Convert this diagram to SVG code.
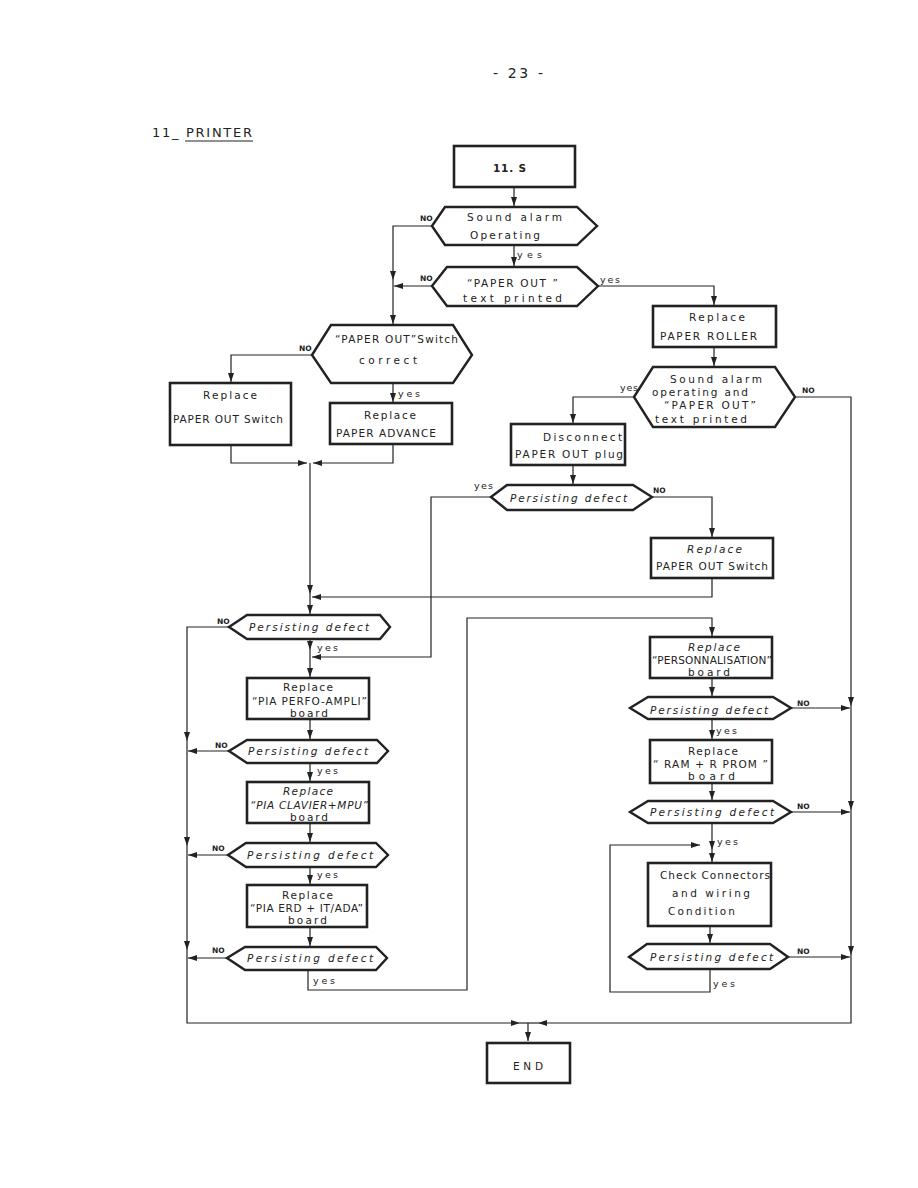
<svg xmlns="http://www.w3.org/2000/svg" width="918" height="1188" viewBox="0 0 918 1188">
<defs>
<marker id="ah" markerUnits="userSpaceOnUse" markerWidth="10" markerHeight="8" refX="9" refY="3" orient="auto">
<path d="M0,0 L9,3 L0,6 z" fill="#222"/>
</marker>
<style>
.box{fill:#fff;stroke:#222;stroke-width:2.6}
.hex{fill:#fff;stroke:#222;stroke-width:2.4;stroke-linejoin:miter}
.ln{fill:none;stroke:#222;stroke-width:1.2}
.ar{fill:none;stroke:#222;stroke-width:1.2;marker-end:url(#ah)}
text{font-family:"DejaVu Sans","Liberation Sans",sans-serif;fill:#222;font-size:10.5px}
.it{font-style:italic}
.lb{font-size:7.5px;font-weight:bold}
.sm{font-size:9.5px}
</style>
</defs>
<rect width="918" height="1188" fill="#fff"/>
<text x="493" y="78" textLength="50" lengthAdjust="spacing" style="font-size:14px">- 23 -</text>
<text x="152" y="137" textLength="100" lengthAdjust="spacing" style="font-size:13px">11_ PRINTER</text>
<line x1="185" y1="141" x2="253" y2="141" stroke="#222" stroke-width="1"/>

<g id="connectors">
<path class="ar" d="M514,187 V206"/>
<path class="ar" d="M514,245 V266"/>
<path class="ar" d="M432,226 H393 V280"/>
<path class="ar" d="M393,280 V324"/>
<path class="ar" d="M432,286 H394"/>
<path class="ar" d="M598,286 H714 V305"/>
<path class="ar" d="M714,347 V366"/>
<path class="ar" d="M634,397 H573 V423"/>
<path class="ar" d="M795,397 H851 V706"/>
<path class="ar" d="M851,706 V810"/>
<path class="ar" d="M851,810 V955"/>
<path class="ar" d="M851,955 V1023 H538"/>
<path class="ar" d="M573,465 V484"/>
<path class="ar" d="M491,497 H431 V657 H312"/>
<path class="ar" d="M652,497 H712 V537"/>
<path class="ar" d="M712,578 V597 H312"/>
<path class="ar" d="M312,355 H231 V382"/>
<path class="ar" d="M393,383 V402"/>
<path class="ar" d="M231,445 V463 H307"/>
<path class="ar" d="M393,444 V463 H313"/>
<path class="ar" d="M310,463 V594"/>
<path class="ar" d="M310,594 V614"/>
<path class="ar" d="M229,627 H187 V741"/>
<path class="ar" d="M187,741 V846"/>
<path class="ar" d="M187,846 V950"/>
<path class="ar" d="M187,950 V1023 H520"/>
<path class="ar" d="M229,751 H188"/>
<path class="ar" d="M228,855 H188"/>
<path class="ar" d="M227,958 H188"/>
<path class="ar" d="M310,639 V650"/>
<path class="ar" d="M310,650 V677"/>
<path class="ar" d="M310,719 V739"/>
<path class="ar" d="M310,763 V781"/>
<path class="ar" d="M310,823 V842"/>
<path class="ar" d="M310,867 V884"/>
<path class="ar" d="M310,927 V946"/>
<path class="ar" d="M308,970 V990 H467 V618 H712 V636"/>
<path class="ar" d="M712,678 V696"/>
<path class="ar" d="M791,708 H850"/>
<path class="ar" d="M712,719 V739"/>
<path class="ar" d="M712,783 V800"/>
<path class="ar" d="M791,812 H850"/>
<path class="ar" d="M712,823 V850"/>
<path class="ar" d="M712,850 V862"/>
<path class="ar" d="M710,926 V943"/>
<path class="ar" d="M788,957 H850"/>
<path class="ar" d="M710,969 V992 H610 V845 H700"/>
<path class="ln" d="M520,1023 H538"/>
<path class="ar" d="M528,1023 V1041"/>
</g>

<g id="labels">
<text class="sm" x="517" y="258" textLength="25" lengthAdjust="spacing">yes</text>
<text class="lb" x="420" y="221">NO</text>
<text class="lb" x="420" y="281">NO</text>
<text class="sm" x="600" y="283" textLength="20" lengthAdjust="spacing">yes</text>
<text class="sm" x="620" y="391" textLength="18" lengthAdjust="spacing">yes</text>
<text class="lb" x="802" y="393">NO</text>
<text class="sm" x="474" y="489" textLength="19" lengthAdjust="spacing">yes</text>
<text class="lb" x="653" y="493">NO</text>
<text class="lb" x="299" y="351">NO</text>
<text class="sm" x="398" y="397" textLength="22" lengthAdjust="spacing">yes</text>
<text class="lb" x="217" y="624">NO</text>
<text class="sm" x="317" y="651" textLength="21" lengthAdjust="spacing">yes</text>
<text class="lb" x="215" y="748">NO</text>
<text class="sm" x="317" y="774" textLength="21" lengthAdjust="spacing">yes</text>
<text class="lb" x="212" y="851">NO</text>
<text class="sm" x="317" y="878" textLength="21" lengthAdjust="spacing">yes</text>
<text class="lb" x="212" y="953">NO</text>
<text class="sm" x="313" y="984" textLength="22" lengthAdjust="spacing">yes</text>
<text class="lb" x="797" y="706">NO</text>
<text class="sm" x="716" y="734" textLength="21" lengthAdjust="spacing">yes</text>
<text class="lb" x="797" y="809">NO</text>
<text class="sm" x="717" y="845" textLength="21" lengthAdjust="spacing">yes</text>
<text class="lb" x="797" y="954">NO</text>
<text class="sm" x="713" y="987" textLength="22" lengthAdjust="spacing">yes</text>
</g>

<g id="n_start">
<rect class="box" x="454" y="146" width="121" height="41"/>
<text x="493" y="172" textLength="33" lengthAdjust="spacing" style="font-weight:bold">11. S</text>
</g>
<g id="n_sound_alarm">
<polygon class="hex" points="432,226 445,207 577,207 597,226 577,245 445,245"/>
<text x="467" y="221" textLength="95" lengthAdjust="spacing">Sound alarm</text>
<text x="470" y="239" textLength="70" lengthAdjust="spacing">Operating</text>
</g>
<g id="n_paper_out_text">
<polygon class="hex" points="432,286 447,267 577,267 598,286 577,306 447,306"/>
<text x="467" y="287" textLength="91" lengthAdjust="spacing">“PAPER OUT ”</text>
<text x="463" y="302" textLength="99" lengthAdjust="spacing">text printed</text>
</g>
<g id="n_switch_correct">
<polygon class="hex" points="312,355 331,325 453,325 472,355 453,383 331,383"/>
<text x="335" y="343" textLength="123" lengthAdjust="spacing">“PAPER OUT”Switch</text>
<text x="359" y="364" textLength="58" lengthAdjust="spacing">correct</text>
</g>
<g id="n_replace_switch_l">
<rect class="box" x="170" y="383" width="121" height="62"/>
<text x="203" y="399" textLength="54" lengthAdjust="spacing">Replace</text>
<text x="173" y="423" textLength="110" lengthAdjust="spacing">PAPER OUT Switch</text>
</g>
<g id="n_replace_advance">
<rect class="box" x="330" y="403" width="122" height="41"/>
<text x="364" y="419" textLength="52" lengthAdjust="spacing">Replace</text>
<text x="336" y="437" textLength="100" lengthAdjust="spacing">PAPER ADVANCE</text>
</g>
<g id="n_replace_roller">
<rect class="box" x="653" y="306" width="123" height="41"/>
<text x="689" y="321" textLength="56" lengthAdjust="spacing">Replace</text>
<text x="660" y="340" textLength="97" lengthAdjust="spacing">PAPER ROLLER</text>
</g>
<g id="n_sound_and_paper">
<polygon class="hex" points="634,397 653,367 775,367 795,397 775,427 653,427"/>
<text x="670" y="383" textLength="92" lengthAdjust="spacing">Sound alarm</text>
<text x="652" y="396" textLength="96" lengthAdjust="spacing">operating and</text>
<text x="664" y="409" textLength="92" lengthAdjust="spacing">“PAPER OUT”</text>
<text x="655" y="423" textLength="92" lengthAdjust="spacing">text printed</text>
</g>
<g id="n_disconnect">
<rect class="box" x="511" y="424" width="114" height="41"/>
<text x="543" y="441" textLength="79" lengthAdjust="spacing">Disconnect</text>
<text x="515" y="458" textLength="108" lengthAdjust="spacing">PAPER OUT plug</text>
</g>
<g id="n_persist_a">
<polygon class="hex" points="491,497 507,485 633,485 652,497 633,510 507,510"/>
<text class="it" x="510" y="502" textLength="117" lengthAdjust="spacing">Persisting defect</text>
</g>
<g id="n_replace_switch_r">
<rect class="box" x="651" y="538" width="122" height="40"/>
<text class="it" x="687" y="553" textLength="55" lengthAdjust="spacing">Replace</text>
<text x="656" y="570" textLength="112" lengthAdjust="spacing">PAPER OUT Switch</text>
</g>
<g id="n_persist_1">
<polygon class="hex" points="229,627 247,615 380,615 390,627 380,639 247,639"/>
<text class="it" x="249" y="631" textLength="120" lengthAdjust="spacing">Persisting defect</text>
</g>
<g id="n_perfo">
<rect class="box" x="247" y="678" width="122" height="41"/>
<text x="283" y="691" textLength="50" lengthAdjust="spacing">Replace</text>
<text x="252" y="705" textLength="115" lengthAdjust="spacing">“PIA PERFO-AMPLI”</text>
<text x="290" y="717" textLength="38" lengthAdjust="spacing">board</text>
</g>
<g id="n_persist_2">
<polygon class="hex" points="229,751 247,740 377,740 388,751 377,763 247,763"/>
<text class="it" x="248" y="755" textLength="120" lengthAdjust="spacing">Persisting defect</text>
</g>
<g id="n_clavier">
<rect class="box" x="247" y="782" width="122" height="41"/>
<text class="it" x="283" y="795" textLength="50" lengthAdjust="spacing">Replace</text>
<text class="it" x="250" y="809" textLength="118" lengthAdjust="spacing">“PIA CLAVIER+MPU”</text>
<text x="290" y="821" textLength="38" lengthAdjust="spacing">board</text>
</g>
<g id="n_persist_3">
<polygon class="hex" points="228,855 246,843 376,843 388,855 376,867 246,867"/>
<text class="it" x="247" y="859" textLength="126" lengthAdjust="spacing">Persisting defect</text>
</g>
<g id="n_erd">
<rect class="box" x="247" y="885" width="120" height="42"/>
<text x="282" y="899" textLength="51" lengthAdjust="spacing">Replace</text>
<text x="250" y="912" textLength="113" lengthAdjust="spacing">“PIA ERD + IT/ADA”</text>
<text x="288" y="924" textLength="39" lengthAdjust="spacing">board</text>
</g>
<g id="n_persist_4">
<polygon class="hex" points="227,958 245,947 376,947 387,958 376,970 245,970"/>
<text class="it" x="247" y="962" textLength="126" lengthAdjust="spacing">Persisting defect</text>
</g>
<g id="n_personnalisation">
<rect class="box" x="650" y="637" width="122" height="41"/>
<text class="it" x="688" y="651" textLength="52" lengthAdjust="spacing">Replace</text>
<text x="652" y="664" textLength="120" lengthAdjust="spacing">“PERSONNALISATION”</text>
<text x="688" y="676" textLength="42" lengthAdjust="spacing">board</text>
</g>
<g id="n_persist_5">
<polygon class="hex" points="630,708 648,697 773,697 791,708 773,719 648,719"/>
<text class="it" x="650" y="714" textLength="118" lengthAdjust="spacing">Persisting defect</text>
</g>
<g id="n_ram">
<rect class="box" x="650" y="740" width="122" height="43"/>
<text x="688" y="755" textLength="50" lengthAdjust="spacing">Replace</text>
<text x="653" y="768" textLength="115" lengthAdjust="spacing">“ RAM + R PROM ”</text>
<text x="688" y="780" textLength="47" lengthAdjust="spacing">board</text>
</g>
<g id="n_persist_6">
<polygon class="hex" points="630,812 648,801 773,801 791,812 773,823 648,823"/>
<text class="it" x="650" y="816" textLength="124" lengthAdjust="spacing">Persisting defect</text>
</g>
<g id="n_check">
<rect class="box" x="648" y="863" width="123" height="63"/>
<text x="660" y="879" textLength="110" lengthAdjust="spacing">Check Connectors</text>
<text x="672" y="897" textLength="78" lengthAdjust="spacing">and wiring</text>
<text x="668" y="915" textLength="67" lengthAdjust="spacing">Condition</text>
</g>
<g id="n_persist_7">
<polygon class="hex" points="629,957 647,944 770,944 788,957 770,969 647,969"/>
<text class="it" x="650" y="961" textLength="123" lengthAdjust="spacing">Persisting defect</text>
</g>
<g id="n_end">
<rect class="box" x="487" y="1043" width="83" height="40"/>
<text x="513" y="1070" textLength="30" lengthAdjust="spacing">END</text>
</g>
</svg>
